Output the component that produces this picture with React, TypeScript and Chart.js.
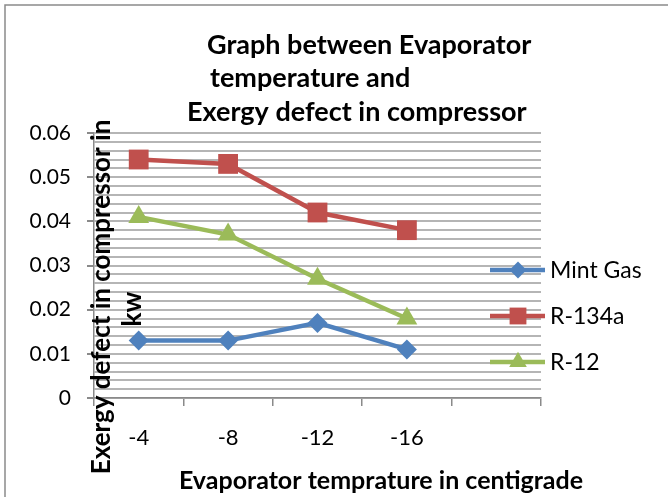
import React, { useEffect, useRef } from 'react';
import { Chart, registerables } from 'chart.js';

Chart.register(...registerables);

const categories = ['-4', '-8', '-12', '-16', ''];
const mintGas = [0.013, 0.013, 0.017, 0.011];
const r134a = [0.054, 0.053, 0.042, 0.038];
const r12 = [0.041, 0.037, 0.027, 0.018];
const seriesNames = ['Mint Gas', 'R-134a', 'R-12'];
const seriesColors = ['#4F81BD', '#C0504D', '#9BBB59'];
const seriesMarkers = ['rectRot', 'rect', 'triangle'];
const markerSizes = [10, 14, 12];
const titleLines = ['Graph between Evaporator', 'temperature and', 'Exergy defect in compressor'];
const yTitleLines = ['Exergy defect in compressor in', 'kw'];
const xTitle = 'Evaporator temprature in centigrade';

const FONT = 'Lato, "Open Sans", sans-serif';

function drawMarker(ctx: CanvasRenderingContext2D, style: string, x: number, y: number, r: number, color: string) {
  ctx.save();
  ctx.fillStyle = color;
  ctx.beginPath();
  if (style === 'rectRot') {
    ctx.moveTo(x, y - r);
    ctx.lineTo(x + r, y);
    ctx.lineTo(x, y + r);
    ctx.lineTo(x - r, y);
  } else if (style === 'rect') {
    const s = r * Math.SQRT1_2;
    ctx.rect(x - s, y - s, 2 * s, 2 * s);
  } else {
    const h = r * 1.5;
    const w = r * Math.sqrt(3) / 2;
    ctx.moveTo(x, y - r);
    ctx.lineTo(x + w, y - r + h);
    ctx.lineTo(x - w, y - r + h);
  }
  ctx.closePath();
  ctx.fill();
  ctx.restore();
}

const decorPlugin = {
  id: 'decor',
  afterDraw(chart: any) {
    const ctx: CanvasRenderingContext2D = chart.ctx;
    ctx.save();
    // outer frame
    ctx.strokeStyle = '#8a8a8a';
    ctx.lineWidth = 1.5;
    ctx.beginPath();
    ctx.moveTo(5, 497);
    ctx.lineTo(5, 5);
    ctx.lineTo(668, 5);
    ctx.stroke();

    ctx.fillStyle = '#000';
    ctx.textBaseline = 'middle';
    ctx.textAlign = 'left';
    ctx.font = 'bold 27px ' + FONT;
    const tx = [207, 210, 187];
    const ty = [45, 78, 112];
    titleLines.forEach((t, i) => ctx.fillText(t, tx[i], ty[i]));

    // x title
    ctx.textAlign = 'center';
    ctx.font = 'bold 25px ' + FONT;
    ctx.fillText(xTitle, 381, 481);

    // y title
    ctx.save();
    ctx.translate(102, 297);
    ctx.rotate(-Math.PI / 2);
    ctx.font = 'bold 26px ' + FONT;
    ctx.fillText(yTitleLines[0], 0, 0);
    ctx.fillText(yTitleLines[1], -12, 31);
    ctx.restore();

    // legend
    chart.data.datasets.forEach((ds: any, i: number) => {
      const y = 270 + i * 46;
      ctx.strokeStyle = ds.borderColor;
      ctx.lineWidth = 4.5;
      ctx.beginPath();
      ctx.moveTo(490, y);
      ctx.lineTo(545, y);
      ctx.stroke();
      drawMarker(ctx, seriesMarkers[i], 518, y, markerSizes[i] * 0.85, ds.borderColor);
      ctx.fillStyle = '#000';
      ctx.textAlign = 'left';
      ctx.font = '23px ' + FONT;
      ctx.fillText(ds.label, 550, y + 1);
    });
    ctx.restore();
  },
};

export default function App() {
  const ref = useRef<HTMLCanvasElement>(null);
  useEffect(() => {
    const canvas = ref.current!;
    const seriesData = [mintGas, r134a, r12];
    const chart = new Chart(canvas, {
      type: 'line',
      data: {
        labels: categories,
        datasets: seriesData.map((d, i) => ({
          label: seriesNames[i],
          data: d,
          borderColor: seriesColors[i],
          backgroundColor: seriesColors[i],
          borderWidth: 4.5,
          pointStyle: seriesMarkers[i] as any,
          pointRadius: markerSizes[i],
          pointBorderWidth: 0,
          tension: 0,
        })),
      },
      options: {
        responsive: false,
        animation: false,
        events: [],
        layout: { padding: { top: 133, right: 127, left: 0, bottom: 0 } },
        plugins: { legend: { display: false }, tooltip: { enabled: false }, title: { display: false } },
        scales: {
          x: {
            type: 'category',
            offset: true,
            afterFit: (s: any) => { s.height = 99; },
            grid: { display: true, drawOnChartArea: false, drawTicks: true, tickLength: 8, color: '#8a8a8a', lineWidth: 1.5, offset: true },
            border: { display: true, color: '#8a8a8a', width: 1.5 },
            ticks: { color: '#000', font: { family: FONT, size: 22 }, padding: 19, maxRotation: 0, autoSkip: false },
          },
          y: {
            min: 0,
            max: 0.06,
            afterFit: (s: any) => { s.width = 94; },
            ticks: {
              stepSize: 0.002,
              autoSkip: false,
              color: '#000',
              padding: 16,
              font: { family: FONT, size: 21 },
              callback: (v: any) => {
                const n = Number(v);
                const k = n * 100;
                if (Math.abs(k - Math.round(k)) > 1e-6) return '';
                return Math.round(k) === 0 ? '0' : (Math.round(k) / 100).toFixed(2);
              },
            },
            grid: {
              color: '#b5b5b5',
              lineWidth: 2,
              tickLength: 7,
              tickColor: (c: any) => {
                const k = Number(c.tick?.value) * 100;
                return Math.abs(k - Math.round(k)) < 1e-6 ? '#8a8a8a' : 'rgba(0,0,0,0)';
              },
            },
            border: { display: true, color: '#8a8a8a', width: 1.5 },
          },
        },
      },
      plugins: [decorPlugin],
    });
    return () => chart.destroy();
  }, []);
  return (
    <div style={{ position: 'absolute', left: 0, top: 0, width: 668, height: 497, background: '#fff' }}>
      <canvas ref={ref} width={668} height={497} style={{ width: 668, height: 497 }} />
    </div>
  );
}
